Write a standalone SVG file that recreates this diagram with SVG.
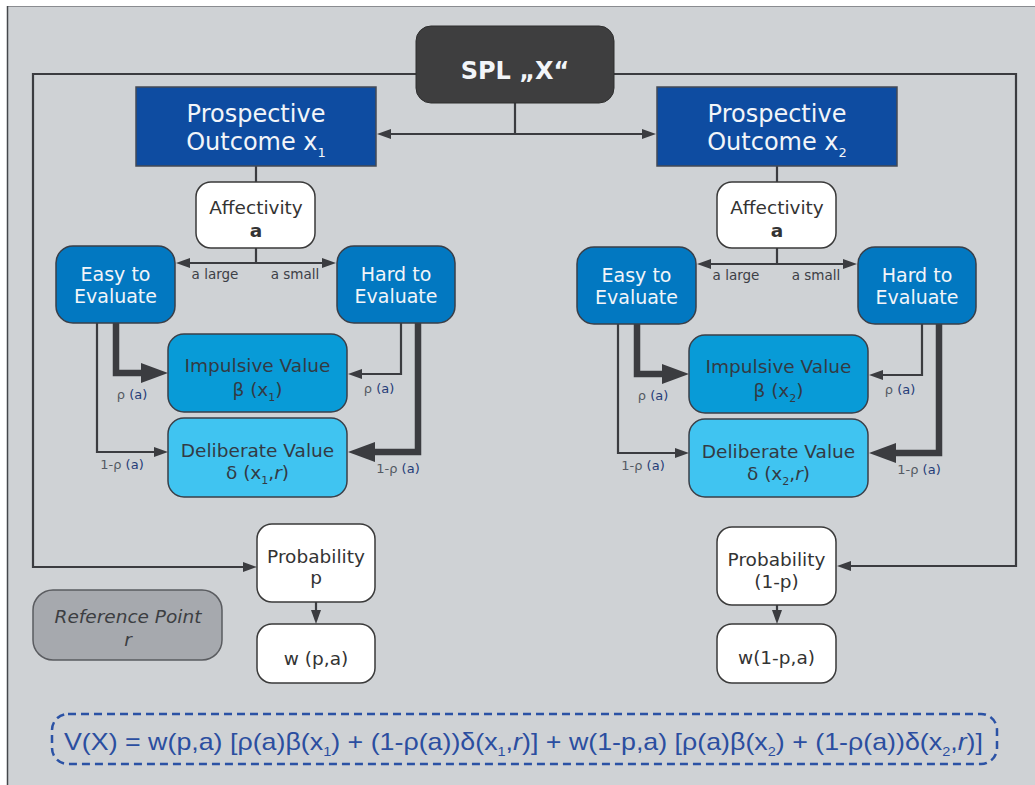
<svg xmlns="http://www.w3.org/2000/svg" width="1035" height="785" viewBox="0 0 1035 785">
  <style>
    text { font-family: "DejaVu Sans", "Open Sans", sans-serif; text-anchor: middle; }
    .wire { fill: none; stroke: #3b3c40; stroke-width: 2.2; }
    .thick { fill: none; stroke: #3b3c40; stroke-width: 6.5; stroke-linejoin: miter; }
    .spl { fill: #3e3e3f; stroke: #2e2e2e; stroke-width: 1; }
    .outcome { fill: #0e4ca1; stroke: #444a55; stroke-width: 1.5; }
    .plain { fill: #ffffff; stroke: #3a3a3a; stroke-width: 1.5; }
    .evalbox { fill: #0278c1; stroke: #3a3f48; stroke-width: 1.5; }
    .impulse { fill: #089bd7; stroke: #3a3f48; stroke-width: 1.5; }
    .deliber { fill: #40c4f1; stroke: #3a3f48; stroke-width: 1.5; }
    .refpt { fill: #a6a9ae; stroke: #5a5c60; stroke-width: 1.5; }
    .wt { fill: #f2f5f9; }
    .dk { fill: #333a44; }
    .lbl { font-size: 13.5px; fill: #3d4046; }
    .rho { font-size: 13px; fill: #555a62; }
    .rho tspan { fill: #263d78; }
    .formula { font-family: "Liberation Sans", "Arial", sans-serif; text-anchor: start; font-size: 24px; fill: #2b4ea0; }
  </style>
  <defs>
    <marker id="ah" markerUnits="userSpaceOnUse" markerWidth="14" markerHeight="10" refX="1" refY="5" orient="auto">
      <path d="M0,0 L14,5 L0,10 z" fill="#3b3c40"/>
    </marker>
    <marker id="ahBig" markerUnits="userSpaceOnUse" markerWidth="27" markerHeight="20" refX="1" refY="10" orient="auto">
      <path d="M0,0 L27,10 L0,20 z" fill="#3b3c40"/>
    </marker>
  </defs>

  <!-- panel -->
  <rect x="7" y="6" width="1040" height="790" fill="#cfd2d5"/>
  <line x1="7" y1="6.5" x2="1035" y2="6.5" stroke="#8a8c90" stroke-width="1"/>
  <line x1="7.5" y1="6" x2="7.5" y2="785" stroke="#45474b" stroke-width="1.5"/>

  <!-- connectors -->
  <g id="connectors">
    <!-- from the SPL to the probabilities -->
    <path class="wire" d="M416,74 H33 V567 H244" marker-end="url(#ah)"/>
    <path class="wire" d="M614,74 H1016 V566 H850" marker-end="url(#ah)"/>
    <!-- from the SPL to both outcomes -->
    <path class="wire" d="M515,103 V134"/>
    <path class="wire" d="M516,134 H390" marker-end="url(#ah)"/>
    <path class="wire" d="M514,134 H643" marker-end="url(#ah)"/>

    <!-- left branch -->
    <path class="wire" d="M256,166 V182"/>
    <path class="wire" d="M256,248 V263"/>
    <path class="wire" d="M257,263 H189" marker-end="url(#ah)"/>
    <path class="wire" d="M255,263 H323" marker-end="url(#ah)"/>
    <path class="thick" d="M116,323 V373 H142" marker-end="url(#ahBig)"/>
    <path class="wire" d="M97,323 V452 H155" marker-end="url(#ah)"/>
    <path class="wire" d="M401,323 V374 H361" marker-end="url(#ah)"/>
    <path class="thick" d="M418,323 V452 H374" marker-end="url(#ahBig)"/>
    <path class="wire" d="M316,602 V611" marker-end="url(#ah)"/>

    <!-- right branch -->
    <path class="wire" d="M777,166 V182"/>
    <path class="wire" d="M777,248 V264"/>
    <path class="wire" d="M778,264 H710" marker-end="url(#ah)"/>
    <path class="wire" d="M776,264 H844" marker-end="url(#ah)"/>
    <path class="thick" d="M637,324 V374 H663" marker-end="url(#ahBig)"/>
    <path class="wire" d="M618,324 V453 H676" marker-end="url(#ah)"/>
    <path class="wire" d="M922,324 V375 H882" marker-end="url(#ah)"/>
    <path class="thick" d="M939,324 V453 H895" marker-end="url(#ahBig)"/>
    <path class="wire" d="M777,605 V611" marker-end="url(#ah)"/>

    <!-- branch labels -->
    <text class="lbl" x="215" y="279">a large</text>
    <text class="lbl" x="295" y="279">a small</text>
    <text class="lbl" x="736" y="280">a large</text>
    <text class="lbl" x="816" y="280">a small</text>

    <text class="rho" x="132" y="399">ρ <tspan>(a)</tspan></text>
    <text class="rho" x="122" y="469">1-ρ <tspan>(a)</tspan></text>
    <text class="rho" x="379" y="393">ρ <tspan>(a)</tspan></text>
    <text class="rho" x="398" y="473">1-ρ <tspan>(a)</tspan></text>

    <text class="rho" x="653" y="400">ρ <tspan>(a)</tspan></text>
    <text class="rho" x="643" y="470">1-ρ <tspan>(a)</tspan></text>
    <text class="rho" x="900" y="394">ρ <tspan>(a)</tspan></text>
    <text class="rho" x="919" y="474">1-ρ <tspan>(a)</tspan></text>
  </g>

  <!-- nodes -->
  <g id="spl">
    <rect class="spl" x="416" y="26" width="198" height="77" rx="15"/>
    <text class="wt" x="515" y="79" font-size="24" font-weight="bold">SPL „X“</text>
  </g>

  <g id="outcome1">
    <rect class="outcome" x="136" y="87" width="240" height="79"/>
    <text class="wt" x="256" y="122" font-size="24">Prospective</text>
    <text class="wt" x="256" y="150" font-size="24">Outcome x<tspan font-size="13" dy="7">1</tspan></text>
  </g>
  <g id="outcome2">
    <rect class="outcome" x="657" y="87" width="240" height="79"/>
    <text class="wt" x="777" y="122" font-size="24">Prospective</text>
    <text class="wt" x="777" y="150" font-size="24">Outcome x<tspan font-size="13" dy="7">2</tspan></text>
  </g>

  <g id="affectivity1">
    <rect class="plain" x="196" y="182" width="119" height="66" rx="15"/>
    <text x="256" y="214" font-size="18.5" fill="#333">Affectivity</text>
    <text x="256" y="237" font-size="18.5" font-weight="bold" fill="#333">a</text>
  </g>
  <g id="affectivity2">
    <rect class="plain" x="717" y="182" width="119" height="66" rx="15"/>
    <text x="777" y="214" font-size="18.5" fill="#333">Affectivity</text>
    <text x="777" y="237" font-size="18.5" font-weight="bold" fill="#333">a</text>
  </g>

  <g id="easy1">
    <rect class="evalbox" x="56" y="246" width="119" height="77" rx="17"/>
    <text class="wt" x="115.5" y="281" font-size="19">Easy to</text>
    <text class="wt" x="115.5" y="303" font-size="19">Evaluate</text>
  </g>
  <g id="hard1">
    <rect class="evalbox" x="337" y="246" width="118" height="77" rx="17"/>
    <text class="wt" x="396" y="281" font-size="19">Hard to</text>
    <text class="wt" x="396" y="303" font-size="19">Evaluate</text>
  </g>
  <g id="easy2">
    <rect class="evalbox" x="577" y="247" width="119" height="77" rx="17"/>
    <text class="wt" x="636.5" y="282" font-size="19">Easy to</text>
    <text class="wt" x="636.5" y="304" font-size="19">Evaluate</text>
  </g>
  <g id="hard2">
    <rect class="evalbox" x="858" y="247" width="118" height="77" rx="17"/>
    <text class="wt" x="917" y="282" font-size="19">Hard to</text>
    <text class="wt" x="917" y="304" font-size="19">Evaluate</text>
  </g>

  <g id="impulsive1">
    <rect class="impulse" x="168" y="334" width="179" height="78" rx="16"/>
    <text class="dk" x="257.5" y="372" font-size="18.5">Impulsive Value</text>
    <text class="dk" x="257.5" y="396" font-size="18.5">β (x<tspan font-size="11" dy="5">1</tspan><tspan dy="-5">)</tspan></text>
  </g>
  <g id="deliberate1">
    <rect class="deliber" x="168" y="418" width="179" height="79" rx="16"/>
    <text class="dk" x="257.5" y="457" font-size="18.5">Deliberate Value</text>
    <text class="dk" x="257.5" y="479" font-size="18.5">δ (x<tspan font-size="11" dy="5">1</tspan><tspan dy="-5">,</tspan><tspan font-style="italic">r</tspan>)</text>
  </g>
  <g id="impulsive2">
    <rect class="impulse" x="689" y="335" width="179" height="78" rx="16"/>
    <text class="dk" x="778.5" y="373" font-size="18.5">Impulsive Value</text>
    <text class="dk" x="778.5" y="397" font-size="18.5">β (x<tspan font-size="11" dy="5">2</tspan><tspan dy="-5">)</tspan></text>
  </g>
  <g id="deliberate2">
    <rect class="deliber" x="689" y="419" width="179" height="78" rx="16"/>
    <text class="dk" x="778.5" y="458" font-size="18.5">Deliberate Value</text>
    <text class="dk" x="778.5" y="480" font-size="18.5">δ (x<tspan font-size="11" dy="5">2</tspan><tspan dy="-5">,</tspan><tspan font-style="italic">r</tspan>)</text>
  </g>

  <g id="probability1">
    <rect class="plain" x="257" y="524" width="118" height="78" rx="15"/>
    <text x="316" y="563" font-size="18.5" fill="#333">Probability</text>
    <text x="316" y="584" font-size="18.5" fill="#333">p</text>
  </g>
  <g id="weight1">
    <rect class="plain" x="257" y="624" width="118" height="59" rx="15"/>
    <text x="316" y="665" font-size="18.5" fill="#333">w (p,a)</text>
  </g>
  <g id="probability2">
    <rect class="plain" x="717" y="527" width="119" height="78" rx="15"/>
    <text x="776.5" y="566" font-size="18.5" fill="#333">Probability</text>
    <text x="776.5" y="588" font-size="18.5" fill="#333">(1-p)</text>
  </g>
  <g id="weight2">
    <rect class="plain" x="717" y="624" width="119" height="59" rx="15"/>
    <text x="776.5" y="664" font-size="18.5" fill="#333">w(1-p,a)</text>
  </g>

  <g id="reference-point">
    <rect class="refpt" x="33" y="590" width="189" height="70" rx="20"/>
    <text x="128" y="623" font-size="18.5" font-style="italic" fill="#3c3e42">Reference Point</text>
    <text x="128" y="646" font-size="18.5" font-style="italic" fill="#3c3e42">r</text>
  </g>

  <g id="value-function">
    <rect x="52" y="714" width="945" height="50" rx="16" fill="none" stroke="#2b52a5" stroke-width="2.5" stroke-dasharray="8,5"/>
    <text class="formula" x="64" y="750" textLength="919" lengthAdjust="spacingAndGlyphs">V(X) = w(p,a) [ρ(a)β(x<tspan font-size="13" dy="6">1</tspan><tspan dy="-6">) + (1-ρ(a))δ(x</tspan><tspan font-size="13" dy="6">1</tspan><tspan dy="-6">,</tspan><tspan font-style="italic">r</tspan>)] + w(1-p,a) [ρ(a)β(x<tspan font-size="13" dy="6">2</tspan><tspan dy="-6">) + (1-ρ(a))δ(x</tspan><tspan font-size="13" dy="6">2</tspan><tspan dy="-6">,</tspan><tspan font-style="italic">r</tspan>)]</text>
  </g>
</svg>
